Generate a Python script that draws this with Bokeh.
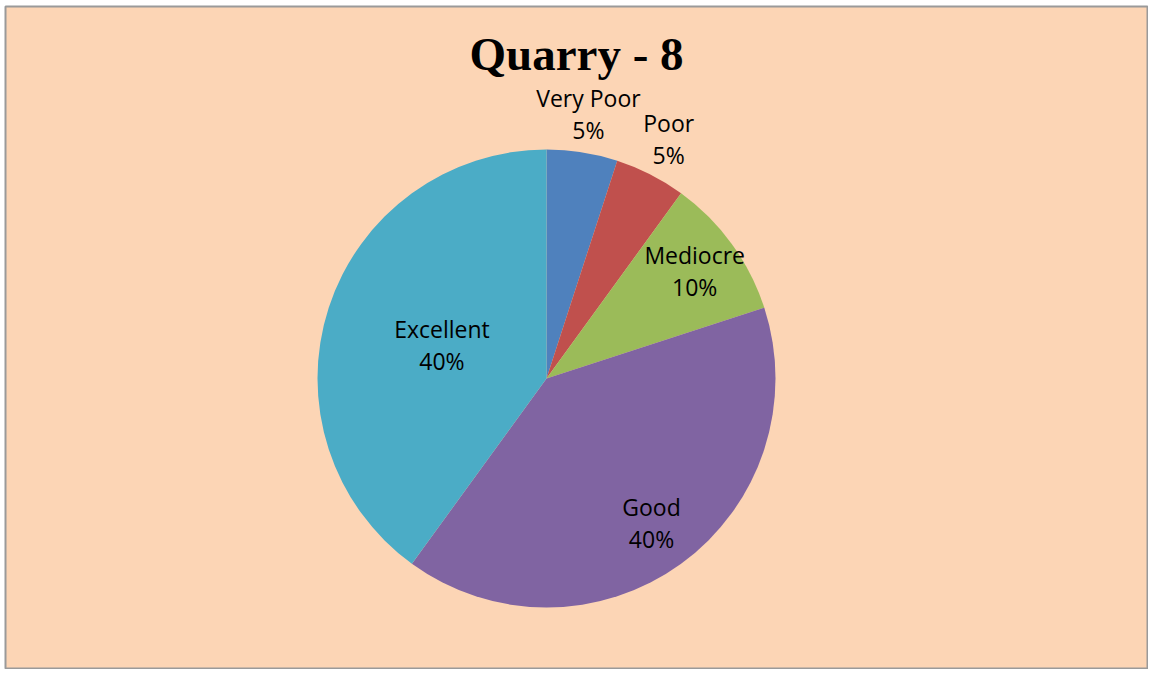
import math
from bokeh.plotting import figure
from bokeh.models import ColumnDataSource
from bokeh.core.properties import value
from bokeh.embed import file_html
from bokeh.resources import INLINE

categories = ["Very Poor", "Poor", "Mediocre", "Good", "Excellent"]
percents = [5, 5, 10, 40, 40]
colors = ["#4F81BD", "#C0504D", "#9BBB59", "#8064A2", "#4BACC6"]
label_radius_frac = [1.17, 1.175, 0.80, 0.78, 0.48]
title_text = "Quarry - 8"

W, H = 1148, 669
BL, BT = 5, 6
FW, FH = W - BL, H - BT
CX, CY, R = 541, 291, 229

p = figure(width=W, height=H, x_range=(0, FW), y_range=(0, FH),
           output_backend="svg", toolbar_location=None,
           min_border_left=BL, min_border_top=BT, min_border_right=0,
           min_border_bottom=0,
           background_fill_color="#FCD5B5", border_fill_color="#FFFFFF")
p.axis.visible = False
p.grid.visible = False
p.outline_line_color = "#9A9A9A"
p.outline_line_width = 2

total = float(sum(percents))
starts, ends, lx, ly = [], [], [], []
cum = 0.0
for v, f in zip(percents, label_radius_frac):
    a0 = math.pi / 2 - 2 * math.pi * cum / total
    cum += v
    a1 = math.pi / 2 - 2 * math.pi * cum / total
    starts.append(a0)
    ends.append(a1)
    mid = (a0 + a1) / 2
    lx.append(CX + f * R * math.cos(mid))
    ly.append(CY + f * R * math.sin(mid))

src = ColumnDataSource(dict(x=[CX] * len(percents), y=[CY] * len(percents),
                            start=starts, end=ends, color=colors))
p.wedge(x="x", y="y", radius=R, radius_units="screen", start_angle="start",
        end_angle="end", direction="clock", fill_color="color",
        line_color=None, source=src)

names_src = ColumnDataSource(dict(x=lx, y=[y + 16 for y in ly], t=categories))
pct_src = ColumnDataSource(dict(x=lx, y=[y - 16 for y in ly],
                                t=[f"{v}%" for v in percents]))
for s in (names_src, pct_src):
    p.text(x="x", y="y", text="t", source=s, text_align="center",
           text_baseline="middle", text_font=value("Open Sans"),
           text_font_size="23px", text_color="#000000")

p.text(x=[571], y=[H - 53], text=[title_text], text_align="center",
       text_baseline="middle", text_font=value("Liberation Serif"),
       text_font_size="47px", text_font_style="bold", text_color="#000000")

open("out.html", "w").write(file_html(p, INLINE))
